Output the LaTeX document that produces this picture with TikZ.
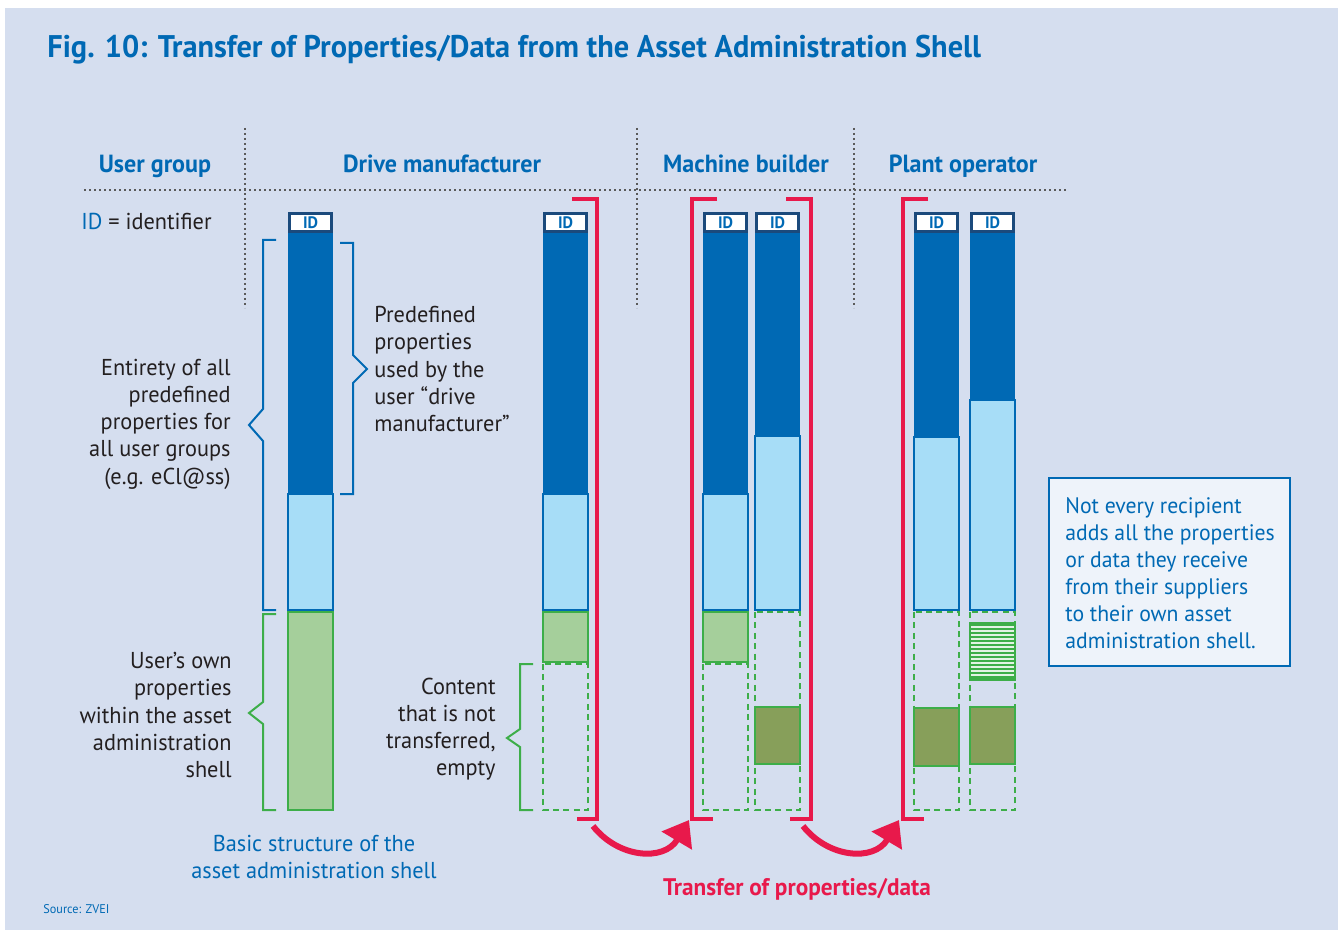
\documentclass[tikz,border=0pt]{standalone}
\usepackage{fontspec}
\setmainfont{PT Sans}[FakeStretch=0.97]
\usepackage{tikz}
\usetikzlibrary{arrows.meta}
\definecolor{bgblue}{HTML}{D5DEEF}
\definecolor{aasblue}{HTML}{0069B4}
\definecolor{lightblue}{HTML}{A7DDF7}
\definecolor{idnavy}{HTML}{1B4A7C}
\definecolor{aasgreen}{HTML}{3DAE49}
\definecolor{lightgreen}{HTML}{A5CF9B}
\definecolor{olivegreen}{HTML}{879F5A}
\definecolor{aasred}{HTML}{E8194B}
\definecolor{dotgray}{HTML}{5A5A5A}
\definecolor{textblack}{HTML}{231F20}
\definecolor{notefill}{HTML}{EEF3FA}

\begin{document}
\begin{tikzpicture}[x=0.5pt,y=-0.5pt,
  sepline/.style={draw=dotgray,line width=1.1pt,dash pattern=on 1.1pt off 1.4pt},
  idbox/.style={draw=idnavy,fill=white,line width=1.5pt,minimum width=21pt,minimum height=9pt,
    inner sep=0pt,text=aasblue,font=\fontsize{8.3}{9}\selectfont\bfseries},
  predef/.style={fill=lightblue,draw=aasblue,line width=1pt},
  ownprop/.style={fill=lightgreen,draw=aasgreen,line width=1pt},
  emptyprop/.style={draw=aasgreen,line width=1.1pt,dash pattern=on 3pt off 2.2pt},
  addprop/.style={fill=olivegreen,draw=aasgreen,line width=1pt},
  transfer/.style={draw=aasred,line width=2pt},
  transferarrow/.style={draw=aasred,line width=3pt,-{Triangle[length=12pt,width=17pt]}},
  bracebl/.style={draw=aasblue,line width=1pt},
  bracegr/.style={draw=aasgreen,line width=1pt},
  head/.style={text=aasblue,font=\fontsize{12.4}{14}\selectfont\bfseries,inner sep=0pt},
  remark/.style={text=textblack,font=\fontsize{11.5}{13.6}\selectfont,inner sep=0pt}]

\useasboundingbox (0,0) rectangle (1338,930);
\fill[bgblue] (5,8) rectangle (1338,930);

\node[anchor=base west,inner sep=0pt,text=aasblue,font=\fontsize{15.65}{18}\selectfont\bfseries] (title) at (47,58)
  {Fig. 10: Transfer of Properties/Data from the Asset Administration Shell};

% table head
\draw[sepline] (84,190) -- (1067,190);
\draw[sepline] (245,128) -- (245,308);
\draw[sepline] (637,128) -- (637,308);
\draw[sepline] (854,128) -- (854,308);

\node[head,anchor=base] (hgroup) at (155,173) {User group};
\node[head,anchor=base] (hdrive) at (442,173) {Drive manufacturer};
\node[head,anchor=base] (hmachine) at (746,173) {Machine builder};
\node[head,anchor=base] (hplant) at (963,173) {Plant operator};

\node[remark,anchor=base east] (idkey) at (212,230) {\textcolor{aasblue}{ID} = identifier};

% shells
\foreach \xa/\ys in {288/494,543/494,703/494,755/436,914/437,970/400}{
  \fill[aasblue] (\xa,232) rectangle ({\xa+45},\ys);
  \draw[predef] (\xa,\ys) rectangle ({\xa+45},610);
  \node[idbox] (id\xa) at ({\xa+22.5},222.5) {ID};
}

\draw[ownprop] (288,612) rectangle (333,810);

\draw[ownprop] (543,612) rectangle (588,662);
\draw[emptyprop] (543,664) rectangle (588,810);

\draw[ownprop] (703,612) rectangle (748,662);
\draw[emptyprop] (703,664) rectangle (748,810);
\draw[emptyprop] (755,612) rectangle (800,810);
\draw[addprop] (755,707) rectangle (800,764);

\draw[emptyprop] (914,612) rectangle (959,810);
\draw[addprop] (914,708) rectangle (959,766);
\draw[emptyprop] (970,612) rectangle (1015,810);
\fill[aasgreen] (970,623) rectangle (1015,680);
\foreach \yy in {627,631,...,677}
  \draw[white!85!aasgreen,line width=1.3pt] (971,\yy) -- (1014,\yy);
\draw[aasgreen,line width=1pt] (970,623) rectangle (1015,680);
\draw[addprop] (970,707) rectangle (1015,764);

% braces
\draw[bracebl] (276,240) -- (263,240) -- (263,409) -- (249,425) -- (263,441) -- (263,610) -- (276,610);
\draw[bracebl] (340,243) -- (353,243) -- (353,355) -- (367,369) -- (353,383) -- (353,494) -- (340,494);
\draw[bracegr] (276,614) -- (263,614) -- (263,702) -- (249,713) -- (263,724) -- (263,810) -- (276,810);
\draw[bracegr] (533,664) -- (520,664) -- (520,729) -- (507,738) -- (520,747) -- (520,810) -- (533,810);

\node[remark,anchor=east,align=right] (entirety) at (231,424)
  {Entirety of all\\predefined\\properties for\\all user groups\\(e.g. eCl@ss)};
\node[remark,anchor=west,align=left] (predefined) at (374,369)
  {Predefined\\properties\\used by the\\user “drive\\manufacturer”};
\node[remark,anchor=east,align=right] (ownprops) at (232,715)
  {User’s own\\properties\\within the asset\\administration\\shell};
\node[remark,anchor=east,align=right] (notsent) at (496,729)
  {Content\\that is not\\transferred,\\empty};
\node[remark,text=aasblue,align=center] (basic) at (314,857)
  {Basic structure of the\\asset administration shell};

% transfer
\draw[transfer] (572,199) -- (597,199) -- (597,819) -- (577,819);
\draw[transfer] (717,199) -- (692,199) -- (692,819) -- (713,819);
\draw[transfer] (786,199) -- (811,199) -- (811,819) -- (790,819);
\draw[transfer] (928,199) -- (903,199) -- (903,819) -- (924,819);

\coordinate (out1) at (593,826);
\coordinate (in1) at (689,820);
\coordinate (out2) at (803,826);
\coordinate (in2) at (899,820);
\draw[transferarrow] (out1) .. controls (618,858) and (664,862) .. (in1);
\draw[transferarrow] (out2) .. controls (828,858) and (874,862) .. (in2);

\node[anchor=base,inner sep=0pt,text=aasred,font=\fontsize{12}{13}\selectfont\bfseries] (transferlbl) at (797,895)
  {Transfer of properties/data};

% note
\draw[draw=aasblue,fill=notefill,line width=0.6pt] (1049,478) rectangle (1290,666);
\node[remark,text=aasblue,font=\fontsize{11.2}{13.5}\selectfont,anchor=west,align=left] (note) at (1065,573)
  {Not every recipient\\adds all the properties\\or data they receive\\from their suppliers\\to their own asset\\administration shell.};

\node[anchor=base west,inner sep=0pt,text=aasblue,font=\fontsize{6.3}{8}\selectfont] (source) at (43,913) {Source: ZVEI};

\end{tikzpicture}
\end{document}
